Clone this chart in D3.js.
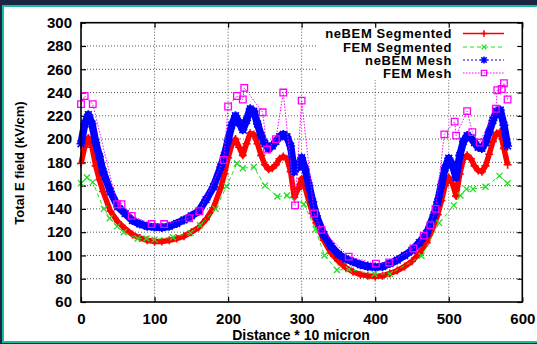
<!DOCTYPE html>
<html lang="en">
<head>
<meta charset="UTF-8">
<title>Total E field</title>
<script src="https://cdn.jsdelivr.net/npm/d3@7"></script>
<style>
  body { margin: 0; background: #1c2541; }
  text { font-family: "Liberation Sans", Arial, sans-serif; font-weight: bold; fill: #000; }
</style>
</head>
<body>
<div id="chart"></div>
<script>
// tick values
const xTicks = [0, 100, 200, 300, 400, 500, 600]
const yTicks = [60, 80, 100, 120, 140, 160, 180, 200, 220, 240, 260, 280, 300]

// neBEM curves (dense) share one x grid
const neX = [0, 5, 10, 15, 20, 25, 30, 40, 50, 60, 70, 80, 90, 100, 110, 120, 130, 140, 150, 160, 170, 180, 190, 195,
  200, 205, 210, 215, 220, 225, 230, 235, 240, 245, 250, 255, 260, 265, 270, 275, 280, 285, 290, 295, 300, 305, 310,
  315, 320, 330, 340, 350, 360, 370, 380, 390, 400, 410, 420, 430, 440, 450, 460, 470, 480, 485, 490, 495, 500, 505,
  510, 515, 520, 525, 530, 535, 540, 545, 550, 555, 560, 565, 570, 575, 580]
const neSeg = [179, 193, 201, 193, 177, 165, 155, 138, 129, 123, 118, 115, 113, 112, 112, 113, 114.5, 116.5, 120, 124,
  131, 141, 158, 170, 184, 195, 200, 193, 186, 196, 205, 204, 196, 186, 178, 174, 175, 178, 183, 185, 183, 172, 150,
  157, 166, 158, 146, 136, 128, 113, 102, 95, 89.5, 86, 83.5, 82.5, 82, 82.5, 84.5, 87, 90.5, 95, 102, 111, 126, 135,
  147, 160, 167, 162, 151, 170, 183, 186, 183, 177, 173, 172, 177, 187, 198, 205, 206, 192, 178]
const neMesh = [196, 213, 221, 213, 197, 185, 172, 155, 142, 136, 130, 127, 125, 124.5, 124, 125, 127.5, 130.5, 134,
  138, 148, 159, 176, 186, 199, 212, 220, 214, 208, 216, 226, 224, 213, 203, 196, 192, 194, 198, 202, 204, 202, 194,
  172, 176, 184, 174, 160, 146, 134, 118, 108, 101, 97, 94.5, 92, 90.5, 90, 90.5, 93, 96, 100, 104.5, 111, 119, 135,
  146, 161, 175, 183.5, 178, 167, 186, 198, 203, 201, 197, 193, 192, 197, 206, 216, 224, 225, 212, 194]

// FEM points (sparse)
const femSegX = [0, 8, 16, 31, 39, 49, 58, 77, 89, 100, 125, 149, 162, 183, 198, 212, 220, 235, 250, 267, 280, 303,
  319, 331, 348, 364, 399, 420, 463, 487, 507, 516, 524, 533, 550, 569, 580]
const femSeg = [162, 167, 163, 140, 132, 125, 120, 114.5, 114.5, 113.6, 115.7, 119.4, 126, 140, 159.5, 179, 175, 176,
  160, 150.6, 151.5, 144, 122.5, 100, 87.5, 88, 84, 84.2, 99.5, 128, 143, 151.5, 157, 157, 159, 168.4, 162]
const femMeshX = [0, 5, 16, 49, 55, 69, 96, 113, 147, 161, 194, 200, 212, 220, 222, 247, 253, 265, 275, 291, 300, 317,
  327, 364, 401, 419, 452, 466, 475, 482, 494, 508, 510, 525, 532, 542, 564, 566, 572, 575, 580]
const femMesh = [230, 237, 230, 144, 144, 134, 127, 127, 132, 138, 182, 228, 237, 234, 244, 223, 191, 200, 240, 143,
  233, 136, 122, 99, 93, 94, 106, 117, 126, 140, 204, 215, 203, 224, 206, 197, 226, 242, 243, 248, 234]

const W = 537, H = 344

const svg = d3.select("#chart").append("svg")
  .attr("width", W).attr("height", H)

// page frame
svg.append("rect").attr("width", W).attr("height", H).attr("fill", "#1c2541")
svg.append("rect").attr("x", 2).attr("y", 5).attr("width", W - 2).attr("height", 338).attr("fill", "#1abc9c")
svg.append("rect").attr("x", 4).attr("y", 7).attr("width", W - 4).attr("height", 334).attr("fill", "#fff")

const x = d3.scaleLinear().domain([0, 600]).range([81, 522.3])
const y = d3.scaleLinear().domain([60, 300]).range([302, 22.7])

// grid
const grid = svg.append("g")
grid.selectAll(".gx").data(xTicks.slice(1, -1)).join("line")
  .attr("x1", d => x(d)).attr("x2", d => x(d))
  .attr("y1", y(300)).attr("y2", y(60))
grid.selectAll(".gy").data(yTicks.slice(1, -1)).join("line")
  .attr("x1", x(0)).attr("x2", x(600))
  .attr("y1", d => y(d)).attr("y2", d => y(d))
grid.selectAll("line")
  .attr("stroke", "#555").attr("stroke-width", 1).attr("stroke-dasharray", "1,2")

// legend background hides grid
svg.append("rect").attr("x", 318).attr("y", 24).attr("width", 202).attr("height", 56).attr("fill", "#fff")

// axes with inward ticks
const fs = "15px"
svg.append("g").attr("transform", `translate(0,${y(60)})`)
  .call(d3.axisBottom(x).tickValues(xTicks).tickSize(-5).tickPadding(11))
svg.append("g").attr("transform", `translate(${x(0)},0)`)
  .call(d3.axisLeft(y).tickValues(yTicks).tickSize(-5).tickPadding(9))
svg.append("g").attr("transform", `translate(0,${y(300)})`)
  .call(d3.axisTop(x).tickValues(xTicks).tickSize(-5).tickFormat(""))
svg.append("g").attr("transform", `translate(${x(600)},0)`)
  .call(d3.axisRight(y).tickValues(yTicks).tickSize(-5).tickFormat(""))
svg.selectAll(".domain").remove()
svg.selectAll(".tick line").attr("stroke", "#000").attr("stroke-width", 1.2)
svg.selectAll(".tick text").style("font-size", fs).style("font-family", '"Liberation Sans", Arial, sans-serif')
  .style("font-weight", "bold").attr("fill", "#000")

// markers
const sym = {
  plus: s => `M${-s},0H${s}M0,${-s}V${s}`,
  cross: s => `M${-s},${-s}L${s},${s}M${-s},${s}L${s},${-s}`,
  star: s => `M${-s},0H${s}M0,${-s}V${s}M${-s * 0.75},${-s * 0.75}L${s * 0.75},${s * 0.75}M${-s * 0.75},${s * 0.75}L${s * 0.75},${-s * 0.75}`,
  square: s => `M${-s},${-s}H${s}V${s}H${-s}Z`
}

const series = [
  {name: "neBEM Segmented", xs: neX, ys: neSeg, color: "#ff0000", width: 5.5, dash: null, mark: "plus", ms: 4, mw: 1.6, lw: 1.5},
  {name: "FEM Segmented", xs: femSegX, ys: femSeg, color: "#22dd22", width: 1, dash: "4,3", mark: "cross", ms: 3, mw: 1.3, lw: 1},
  {name: "neBEM Mesh", xs: neX, ys: neMesh, color: "#0000ff", width: 7.5, dash: null, mark: "star", ms: 4.5, mw: 1.6, lw: 1.2, ldash: "2,2"},
  {name: "FEM Mesh", xs: femMeshX, ys: femMesh, color: "#ff00ff", width: 1, dash: "1.5,1.5", mark: "square", ms: 3.3, mw: 1.3, lw: 1}
]

const line = d3.line().x(d => x(d[0])).y(d => y(d[1]))

series.forEach(s => {
  const pts = s.xs.map((v, i) => [v, s.ys[i]])
  svg.append("path").datum(pts)
    .attr("d", line)
    .attr("fill", "none")
    .attr("stroke", s.color)
    .attr("stroke-width", s.width)
    .attr("stroke-linejoin", "round")
    .attr("stroke-dasharray", s.dash)
  svg.append("g").selectAll("path").data(pts).join("path")
    .attr("transform", d => `translate(${x(d[0])},${y(d[1])})`)
    .attr("d", sym[s.mark](s.ms))
    .attr("fill", "none")
    .attr("stroke", s.color)
    .attr("stroke-width", s.mw)
})

// frame
svg.append("rect")
  .attr("x", x(0)).attr("y", y(300))
  .attr("width", x(600) - x(0)).attr("height", y(60) - y(300))
  .attr("fill", "none").attr("stroke", "#000").attr("stroke-width", 1.6)

// legend
const legY = [33.5, 47, 60, 73]
series.forEach((s, i) => {
  svg.append("text")
    .attr("x", 452).attr("y", legY[i]).attr("dy", "0.36em")
    .attr("text-anchor", "end").style("font-size", "13px")
    .style("letter-spacing", "0.6px")
    .text(s.name)
  svg.append("line")
    .attr("x1", 463).attr("x2", 504).attr("y1", legY[i]).attr("y2", legY[i])
    .attr("stroke", s.color).attr("stroke-width", s.lw)
    .attr("stroke-dasharray", s.ldash || s.dash)
  svg.append("path")
    .attr("transform", `translate(484,${legY[i]})`)
    .attr("d", sym[s.mark](s.ms * 0.8))
    .attr("fill", "none").attr("stroke", s.color).attr("stroke-width", s.mw)
})

// axis titles
svg.append("text")
  .attr("x", (232 + 370) / 2).attr("y", 340)
  .attr("text-anchor", "middle").style("font-size", "14px")
  .text("Distance * 10 micron")
svg.append("text")
  .attr("transform", "translate(24,163) rotate(-90)")
  .attr("text-anchor", "middle").style("font-size", "13px")
  .text("Total E field (kV/cm)")
</script>
</body>
</html>
